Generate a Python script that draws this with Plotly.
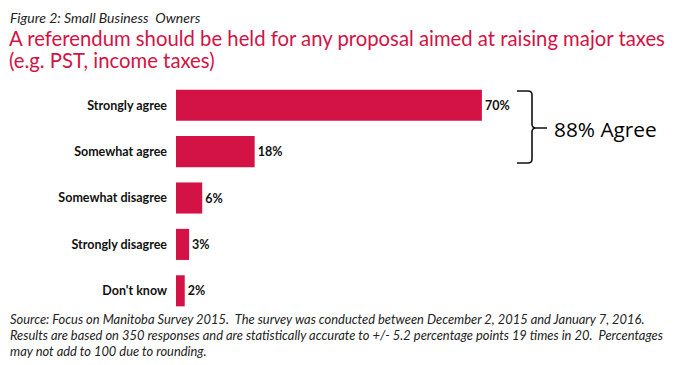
import plotly.graph_objects as go

categories = ["Strongly agree", "Somewhat agree", "Somewhat disagree", "Strongly disagree", "Don't know"]
values = [70, 18, 6, 3, 2]
value_labels = ["70%", "18%", "6%", "3%", "2%"]

RED = "#D31245"
W, H = 680, 365
ML, MR, MT, MB = 176, 67, 82, 51
PW, PH = W - ML - MR, H - MT - MB

def px(x):
    return (x - ML) / PW

def py(y):
    return (H - MB - y) / PH

fig = go.Figure(go.Bar(
    x=values, y=categories, orientation="h",
    marker=dict(color=RED, line=dict(width=0)),
    text=["<b>%s</b>" % t for t in value_labels],
    textposition="outside", textfont=dict(size=12.5, color="#111", family="Lato"),
    cliponaxis=False, width=0.67,
))

fig.update_layout(
    width=W, height=H, margin=dict(l=ML, r=MR, t=MT, b=MB, autoexpand=False),
    paper_bgcolor="white", plot_bgcolor="white", showlegend=False,
    font=dict(family="Lato", color="#111"),
    xaxis=dict(range=[0, 100], visible=False),
    yaxis=dict(categoryorder="array", categoryarray=categories, autorange="reversed",
               showgrid=False, zeroline=False, showline=False, ticks="",
               tickfont=dict(size=12.5, color="#111", family="Lato"), ticklabelstandoff=8),
)
fig.update_yaxes(tickvals=categories, ticktext=["<b>%s</b>" % c for c in categories])

anns = [
    dict(text="<i>Figure 2: Small Business  Owners</i>", x=px(8), y=py(18), font=dict(size=14, color="#222")),
    dict(text="A referendum should be held for any proposal aimed at raising major taxes", x=px(7), y=py(38), font=dict(size=20.3, color=RED)),
    dict(text="(e.g. PST, income taxes)", x=px(7), y=py(60), font=dict(size=20.3, color=RED)),
    dict(text="<i>Source: Focus on Manitoba Survey 2015.  The survey was conducted between December 2, 2015 and January 7, 2016.</i>", x=px(8), y=py(319), font=dict(size=12.9, color="#222")),
    dict(text="<i>Results are based on 350 responses and are statistically accurate to +/- 5.2 percentage points 19 times in 20.  Percentages</i>", x=px(8), y=py(335), font=dict(size=12.9, color="#222")),
    dict(text="<i>may not add to 100 due to rounding.</i>", x=px(8), y=py(351), font=dict(size=12.9, color="#222")),
    dict(text="88% Agree", x=px(552), y=py(129), font=dict(size=20.8, color="#000", family="Open Sans")),
]
for a in anns:
    fig.add_annotation(xref="paper", yref="paper", xanchor="left", yanchor="middle",
                       showarrow=False, **a)

# curly bracket
x0, x1, xt = px(517), px(532), px(547)
yt, ym, yb = py(91), py(128), py(163)
r = 4 / PH
rx = 4 / PW
path = (f"M {x0},{yt} L {x1-rx},{yt} Q {x1},{yt} {x1},{yt-r} L {x1},{ym+r} Q {x1},{ym} {x1+rx},{ym} "
        f"L {xt},{ym} M {x1+rx},{ym} Q {x1},{ym} {x1},{ym-r} L {x1},{yb+r} Q {x1},{yb} {x1-rx},{yb} L {x0},{yb}")
fig.add_shape(type="path", xref="paper", yref="paper", path=path, line=dict(color="#111", width=1.6))

fig.write_html("out.html", config={"displayModeBar": False})
with open("out.html", encoding="utf-8") as f:
    html = f.read()
html = html.replace("<head>", "<head><style>html,body{margin:0;padding:0;overflow:hidden;}</style>", 1)
with open("out.html", "w", encoding="utf-8") as f:
    f.write(html)
